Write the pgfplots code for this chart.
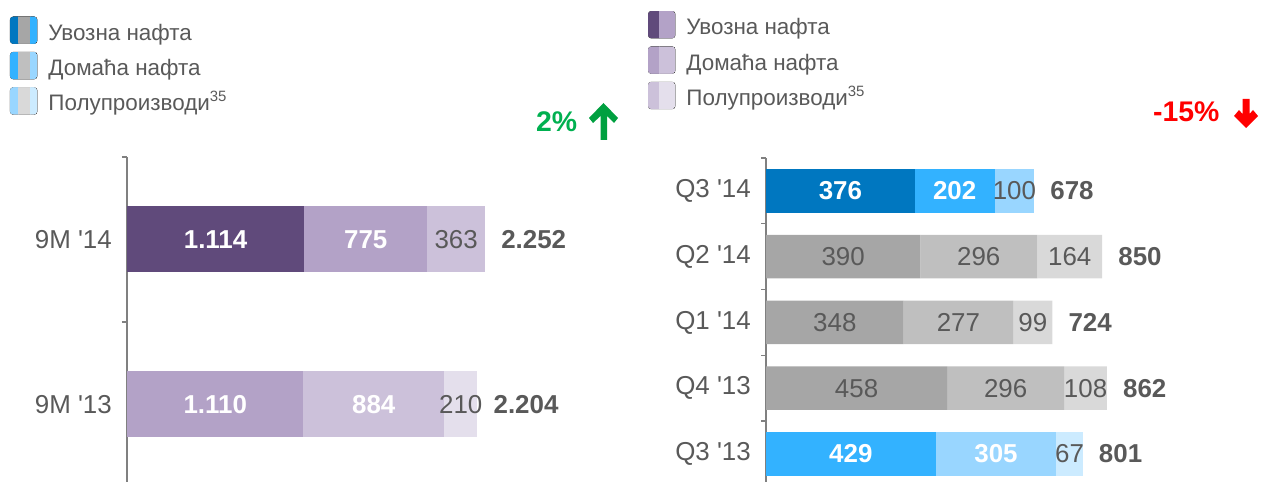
\documentclass[border=0pt]{standalone}
\usepackage{fontspec}
\setmainfont{Liberation Sans}
\usepackage{pgfplots}
\pgfplotsset{compat=1.18}

\definecolor{purpleDark}{HTML}{604A7B}
\definecolor{purpleMid}{HTML}{B3A2C7}
\definecolor{purpleLight}{HTML}{CCC1DA}
\definecolor{purplePale}{HTML}{E4DFEC}
\definecolor{blueDark}{HTML}{0077C0}
\definecolor{blueMid}{HTML}{33B2FF}
\definecolor{blueLight}{HTML}{99D6FF}
\definecolor{bluePale}{HTML}{CCEBFF}
\definecolor{gray1}{HTML}{A6A6A6}
\definecolor{gray2}{HTML}{BFBFBF}
\definecolor{gray3}{HTML}{D9D9D9}
\definecolor{textgray}{HTML}{595959}
\definecolor{axisgray}{HTML}{808080}
\definecolor{upgreen}{HTML}{00B050}
\definecolor{arrowgreen}{HTML}{00A040}

\newcommand{\lblfont}{\fontsize{26}{30}\selectfont}
\newcommand{\legfont}{\fontsize{22.5}{27}\selectfont}
\newcommand{\q}{\textquotesingle}
\newcommand{\fnref}[1]{\raisebox{9.5bp}{\fontsize{15}{17}\selectfont #1}}

% legend swatches
\newcommand{\swatchthree}[3]{\begin{scope}
  \clip[rounded corners=3bp] (0bp,-11.5bp) rectangle (27bp,15.5bp);
  \fill[#1] (0bp,-11.5bp) rectangle (8.5bp,15.5bp);
  \fill[#2] (8.5bp,-11.5bp) rectangle (20bp,15.5bp);
  \fill[#3] (20bp,-11.5bp) rectangle (27bp,15.5bp);
\end{scope}}
\newcommand{\swatchtwo}[2]{\begin{scope}
  \clip[rounded corners=3bp] (0bp,-11.5bp) rectangle (27bp,15.5bp);
  \fill[#1] (0bp,-11.5bp) rectangle (11bp,15.5bp);
  \fill[#2] (11bp,-11.5bp) rectangle (27bp,15.5bp);
\end{scope}}

\pgfplotsset{
  segw/.style={fill=#1, draw=none, forget plot, nodes near coords, point meta=explicit symbolic,
    every node near coord/.append style={anchor=center, inner sep=0pt,
      font=\lblfont\bfseries, text=white}},
  segg/.style={fill=#1, draw=none, forget plot, nodes near coords, point meta=explicit symbolic,
    every node near coord/.append style={anchor=center, inner sep=0pt,
      font=\lblfont, text=textgray}},
  tot/.style={draw=none, fill=none, bar width=0pt, nodes near coords, point meta=explicit symbolic,
    every node near coord/.append style={anchor=west, inner sep=0pt, xshift=16bp,
      font=\lblfont\bfseries, text=textgray}},
  barax/.style={
    scale only axis, xbar stacked, xmin=0, clip=false,
    axis y line*=left, axis x line=none,
    y axis line style={draw=axisgray, line width=1.3bp},
    major tick length=0pt, minor tick length=5bp, tick align=outside,
    tick style={draw=axisgray, line width=1.3bp},
    yticklabel style={inner sep=0pt, xshift=-15bp, font=\lblfont, text=textgray},
    legend cell align=left,
    legend style={anchor=north west, draw=none, fill=none, inner sep=0pt, outer sep=0pt,
      row sep=8bp, column sep=11bp, font=\legfont, text=textgray,
      nodes={inner sep=0pt, text height=16bp, text depth=0pt}},
  },
  totax/.style={scale only axis, xbar, xmin=0, clip=false, hide axis},
}

\begin{document}
\begin{tikzpicture}
% ---- left: 9M
\begin{axis}[barax, at={(127bp,0bp)}, anchor=south west,
  x=0.159bp, y=165bp, xmax=3000, ymin=-0.47, ymax=1.5,
  bar width=66bp,
  ytick={0,1}, yticklabels={9M \q13, 9M \q14},
  minor ytick={-0.5,0.5,1.5},
  legend style={at={(-0.2453,1.4321)}}]
  \addplot[segw=purpleDark] coordinates {(0,0)[] (1114,1)[1.114]};
  \addplot[segw=purpleMid] coordinates {(1110,0)[1.110] (0,1)[]};
  \addplot[segw=purpleMid] coordinates {(0,0)[] (775,1)[775]};
  \addplot[segw=purpleLight] coordinates {(884,0)[884] (0,1)[]};
  \addplot[segg=purpleLight] coordinates {(0,0)[] (363,1)[363]};
  \addplot[segg=purplePale] coordinates {(210,0)[210] (0,1)[]};
  \addlegendimage{legend image code/.code={\swatchthree{blueDark}{gray1}{blueMid}}}
  \addlegendentry{Увозна нафта}
  \addlegendimage{legend image code/.code={\swatchthree{blueMid}{gray2}{blueLight}}}
  \addlegendentry{Домаћа нафта}
  \addlegendimage{legend image code/.code={\swatchthree{blueLight}{gray3}{bluePale}}}
  \addlegendentry{Полупроизводи\fnref{35}}
\end{axis}
\begin{axis}[totax, at={(127bp,0bp)}, anchor=south west,
  x=0.159bp, y=165bp, xmax=3000, ymin=-0.47, ymax=1.5]
  \addplot[tot] coordinates {(2204,0)[2.204] (2252,1)[2.252]};
\end{axis}
% ---- right: quarters
\begin{axis}[barax, at={(766bp,0bp)}, anchor=south west,
  x=0.3955bp, y=65.8bp, xmax=1200, ymin=-0.425, ymax=4.5,
  bar width=43.5bp,
  ytick={0,1,2,3,4}, yticklabels={Q3 \q13, Q4 \q13, Q1 \q14, Q2 \q14, Q3 \q14},
  minor ytick={0.5,1.5,2.5,3.5,4.5},
  legend style={at={(-0.2486,1.4534)}}]
  \addplot[segw=blueDark] coordinates {(0,0)[] (0,1)[] (0,2)[] (0,3)[] (376,4)[376]};
  \addplot[segw=blueMid] coordinates {(429,0)[429] (0,1)[] (0,2)[] (0,3)[] (0,4)[]};
  \addplot[segg=gray1] coordinates {(0,0)[] (458,1)[458] (348,2)[348] (390,3)[390] (0,4)[]};
  \addplot[segw=blueMid] coordinates {(0,0)[] (0,1)[] (0,2)[] (0,3)[] (202,4)[202]};
  \addplot[segw=blueLight] coordinates {(305,0)[305] (0,1)[] (0,2)[] (0,3)[] (0,4)[]};
  \addplot[segg=gray2] coordinates {(0,0)[] (296,1)[296] (277,2)[277] (296,3)[296] (0,4)[]};
  \addplot[segg=blueLight] coordinates {(0,0)[] (0,1)[] (0,2)[] (0,3)[] (100,4)[100]};
  \addplot[segg=bluePale] coordinates {(67,0)[67] (0,1)[] (0,2)[] (0,3)[] (0,4)[]};
  \addplot[segg=gray3] coordinates {(0,0)[] (108,1)[108] (99,2)[99] (164,3)[164] (0,4)[]};
  \addlegendimage{legend image code/.code={\swatchtwo{purpleDark}{purpleMid}}}
  \addlegendentry{Увозна нафта}
  \addlegendimage{legend image code/.code={\swatchtwo{purpleMid}{purpleLight}}}
  \addlegendentry{Домаћа нафта}
  \addlegendimage{legend image code/.code={\swatchtwo{purpleLight}{purplePale}}}
  \addlegendentry{Полупроизводи\fnref{35}}
\end{axis}
\begin{axis}[totax, at={(766bp,0bp)}, anchor=south west,
  x=0.3955bp, y=65.8bp, xmax=1200, ymin=-0.425, ymax=4.5]
  \addplot[tot] coordinates {(801,0)[801] (862,1)[862] (724,2)[724] (850,3)[850] (678,4)[678]};
\end{axis}
% ---- change markers
\node[anchor=west, inner sep=0pt, font=\fontsize{28.5}{32}\selectfont\bfseries, text=upgreen] at (536bp,360bp) {2\%};
\fill[arrowgreen] (603.5bp,379bp) -- (618bp,364bp) -- (614bp,359bp) -- (607bp,366bp) -- (607bp,342bp)
  -- (600.5bp,342bp) -- (600.5bp,366bp) -- (593bp,359bp) -- (589bp,364bp) -- cycle;
\node[anchor=west, inner sep=0pt, font=\fontsize{28.5}{32}\selectfont\bfseries, text=red] at (1153bp,370bp) {-15\%};
\fill[red] (1246bp,354bp) -- (1258bp,366bp) -- (1253bp,372bp) -- (1249.5bp,368bp) -- (1249.5bp,383bp)
  -- (1242.5bp,383bp) -- (1242.5bp,368bp) -- (1239bp,372bp) -- (1234bp,366bp) -- cycle;
\pgfresetboundingbox
\path[use as bounding box] (0bp,0bp) rectangle (1264bp,482bp);
\end{tikzpicture}
\end{document}
